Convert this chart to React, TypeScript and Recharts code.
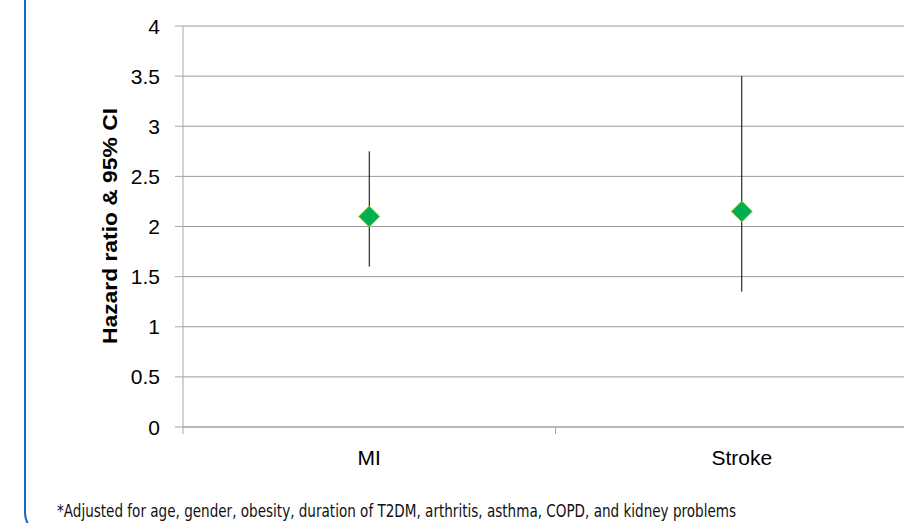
import { ScatterChart, Scatter, XAxis, YAxis, CartesianGrid, ErrorBar } from 'recharts'

const categories = ['MI', 'Stroke']
const hazardRatio = [2.1, 2.15]
const ciLow = [1.6, 1.35]
const ciHigh = [2.75, 3.5]
const yTicks = [0, 0.5, 1, 1.5, 2, 2.5, 3, 3.5, 4]
const footnote =
  '*Adjusted for age, gender, obesity, duration of T2DM, arthritis, asthma, COPD, and kidney problems'

const data = categories.map((name, i) => ({
  name,
  x: i + 0.5,
  hr: hazardRatio[i],
  err: [hazardRatio[i] - ciLow[i], ciHigh[i] - hazardRatio[i]],
}))

const font = '"Liberation Sans", Arial, sans-serif'

function Diamond(props: any) {
  const { cx, cy } = props
  const r = 10.5
  return (
    <path
      d={`M${cx},${cy - r} L${cx + r},${cy} L${cx},${cy + r} L${cx - r},${cy} Z`}
      fill="#00b050"
      stroke="#9dc83c"
      strokeWidth={1}
    />
  )
}

function XTick(props: any) {
  const { x, y, payload } = props
  const v = payload.value as number
  if (Number.isInteger(v)) {
    return <line x1={x} x2={x} y1={y - 7} y2={y} stroke="#a6a6a6" />
  }
  const label = categories[Math.floor(v)]
  return (
    <text x={x} y={y + 31} textAnchor="middle" fontSize={21} fontFamily={font} fill="#000">
      {label}
    </text>
  )
}

function YTick(props: any) {
  const { x, y, payload } = props
  return (
    <text x={x} y={y} dy="0.36em" textAnchor="end" fontSize={21} fontFamily={font} fill="#000">
      {payload.value}
    </text>
  )
}

export default function App() {
  return (
    <div
      style={{
        position: 'fixed',
        left: 0,
        top: 0,
        width: 904,
        height: 523,
        overflow: 'hidden',
        background: '#fff',
      }}
    >
      <div
        style={{
          position: 'absolute',
          left: 24,
          top: -40,
          width: 1000,
          height: 575,
          border: '2px solid #1667c6',
          borderRadius: 22,
          boxSizing: 'border-box',
        }}
      />
      <div style={{ position: 'absolute', left: 0, top: 0 }}>
        <ScatterChart width={940} height={523} margin={{ top: 26, right: 12, bottom: 0, left: 0 }}>
          <CartesianGrid horizontal vertical={false} stroke="#9a9a9a" />
          <XAxis
            type="number"
            dataKey="x"
            domain={[0, 2]}
            ticks={[0, 0.5, 1, 1.5, 2]}
            interval={0}
            height={96}
            tickSize={7}
            tickMargin={0}
            tickLine={false}
            stroke="#a6a6a6"
            tick={<XTick />}
          />
          <YAxis
            type="number"
            dataKey="hr"
            domain={[0, 4]}
            ticks={yTicks}
            interval={0}
            width={183}
            tickSize={8}
            tickMargin={15}
            stroke="#a6a6a6"
            tick={<YTick />}
            label={{
              content: () => (
                <text
                  x={0}
                  y={0}
                  transform="translate(117,226) rotate(-90)"
                  textAnchor="middle"
                  fontSize={20}
                  fontWeight="bold"
                  fontFamily={font}
                  textLength={236}
                  lengthAdjust="spacingAndGlyphs"
                  fill="#000"
                >
                  Hazard ratio &amp; 95% CI
                </text>
              ),
            }}
          />
          <Scatter data={data} shape={<Diamond />} isAnimationActive={false}>
            <ErrorBar dataKey="err" direction="y" width={0} stroke="#000" strokeWidth={1} />
          </Scatter>
        </ScatterChart>
      </div>
      <svg style={{ position: 'absolute', left: 0, top: 0 }} width={904} height={523}>
        <text
          x={57}
          y={517}
          fontSize={17}
          fontFamily='"Liberation Sans Narrow", "DejaVu Sans Condensed", sans-serif'
          textLength={679}
          lengthAdjust="spacingAndGlyphs"
          fill="#111"
        >
          {footnote}
        </text>
      </svg>
    </div>
  )
}
